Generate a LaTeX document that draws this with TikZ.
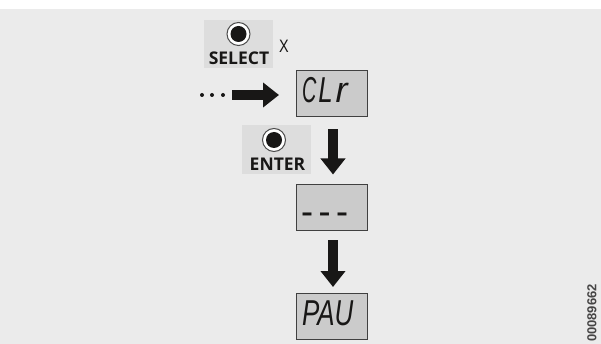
\documentclass[tikz,border=0pt]{standalone}
\usepackage{fontspec}
\setmainfont{Liberation Sans}
\newfontfamily\keyfont{Open Sans}
\usetikzlibrary{arrows.meta,calc,positioning}
\definecolor{panelgray}{HTML}{EBEBEB}
\definecolor{keygray}{HTML}{DDDDDD}
\definecolor{lcdgray}{HTML}{CBCBCB}
\definecolor{inkblack}{HTML}{181716}
\newcommand{\lcdtext}[2]{\smash{\raisebox{#1}{#2}}}
\newcommand{\lcddash}{\scalebox{0.6}[1]{–}}
\tikzset{
  menu schemes/.style = {
    x=1pt, y=-1pt,
    % display
    lcd/.style = {
      draw=black!75, fill=lcdgray, line width=1pt,
      minimum width=71pt, minimum height=46pt,
      inner sep=0pt, text=inkblack, text width=60pt, align=left,
      font=\fontsize{36}{36}\selectfont\itshape
    },
    % key
    keybox/.style = {
      fill=keygray, minimum width=69pt, minimum height=48pt, inner sep=0pt
    },
    keyname/.style = {
      inner sep=0pt, text=inkblack,
      font=\fontsize{17.5}{18}\selectfont\keyfont\bfseries
    },
    keyring/.style = {
      circle, draw=black!70, fill=white, line width=1pt,
      minimum size=23pt, inner sep=0pt
    },
    keydot/.style = {
      circle, fill=inkblack, minimum size=16pt, inner sep=0pt
    },
    % arrows
    flow line/.style = {
      line width=10.5pt, inkblack,
      -{Triangle[length=16pt,width=24pt]}
    },
    dotmark/.style = {circle, fill=inkblack, minimum size=4pt, inner sep=0pt},
  }
}
\begin{document}
\begin{tikzpicture}[menu schemes]
\useasboundingbox (0,0) rectangle (601,344);
\fill[panelgray] (0,9) rectangle (601,344);

\node[keybox] (selectkey) at (238.5,44) {};
\node[keyring] (selectring) at (238.5,34) {};
\node[keydot] at (selectring) {};
\node[keyname] (selectname) at (239,58) {SELECT};
\node[inner sep=0pt, xscale=0.8, font=\fontsize{18}{18}\selectfont, text=inkblack] (times) at (284,46) {X};

\node[lcd] (clr) at (332,94) {\lcdtext{-9pt}{\scalebox{0.55}[1]{C}\hspace{2pt}\scalebox{0.72}[1]{L}\hspace{3pt}r}};
\node[keybox, minimum height=49pt] (enterkey) at (276.5,149.5) {};
\node[keyring] (enterring) at (274,140) {};
\node[keydot] at (enterring) {};
\node[keyname] (entername) at (277.5,164) {ENTER};
\node[lcd] (dashes) at (332,208) {\lcdtext{-15pt}{\fontsize{30}{30}\selectfont\upshape\bfseries\lcddash\hspace{7.5pt}\lcddash\hspace{7.5pt}\lcddash}};
\node[lcd] (pau) at (332,316.5) {\lcdtext{-8.5pt}{\scalebox{0.72}[1]{PAU}}};

\foreach \n/\px in {1/202,2/212,3/223}
  \node[dotmark] (dot\n) at (\px,95) {};
\coordinate (flowstart) at (232,95);

\draw[flow line, shorten >=17pt] (flowstart) -- (clr.west |- flowstart);
\draw[flow line, shorten <=12pt, shorten >=10pt] ($(clr.south)+(1,0)$) -- ($(dashes.north)+(1,0)$);
\draw[flow line, shorten <=9pt, shorten >=6pt] ($(dashes.south)+(1,0)$) -- ($(pau.north)+(1,0)$);

\node[rotate=90, inner sep=0pt, font=\fontsize{13}{13}\selectfont\bfseries, text=inkblack!80] (partno) at (592,313) {00089662};
\end{tikzpicture}
\end{document}
